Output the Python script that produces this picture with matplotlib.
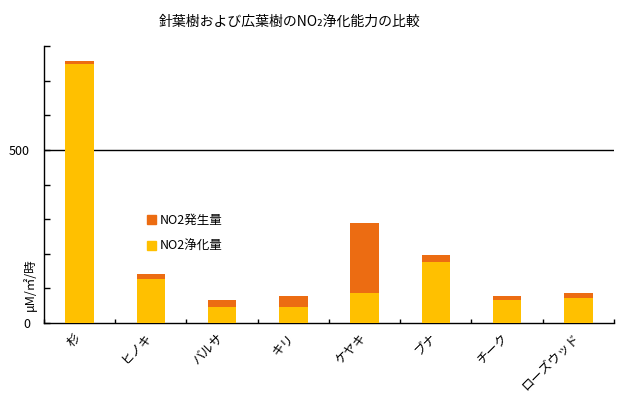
import matplotlib
matplotlib.use("Agg")
import matplotlib.pyplot as plt
from matplotlib.patches import Patch
import numpy as np

plt.rcParams['font.family'] = ['Noto Sans CJK JP', 'DejaVu Sans']

categories = ["杉", "ヒノキ", "バルサ", "キリ", "ケヤキ", "ブナ", "チーク", "ローズウッド"]
purification = [747, 127, 46, 46, 87, 177, 66, 72]   # NO2浄化量
generation = [9, 14, 20, 32, 202, 20, 12, 15]        # NO2発生量
yticks_major = [0, 500]
title = "針葉樹および広葉樹のNO₂浄化能力の比較"
ylabel = "μM/㎡/時"
legend_labels = ["NO2発生量", "NO2浄化量"]

c_yellow = "#FFC000"
c_orange = "#EC6C12"

fig = plt.figure(figsize=(6.22, 3.95), dpi=100)
ax = fig.add_axes([44/622, 1-323/395, (614-44)/622, (323-46)/395])

x = np.arange(len(categories))
ax.bar(x, purification, width=0.4, color=c_yellow, zorder=3)
ax.bar(x, generation, width=0.4, bottom=purification, color=c_orange, zorder=3)

ax.set_xlim(-0.5, len(categories) - 0.5)
ax.set_ylim(0, 800)
ax.set_yticks(yticks_major)
ax.set_yticks(np.arange(0, 801, 100), minor=True)
ax.tick_params(axis='y', which='both', direction='in', length=4, width=1, labelsize=9, pad=10)
ax.axhline(500, color='black', lw=1, zorder=2)

ax.set_xticks(np.arange(len(categories) + 1) - 0.5, minor=True)
ax.set_xticks(x + 0.05)
ax.set_xticklabels(categories, rotation=45, ha='right', va='top', fontsize=9,
                   rotation_mode='default')
ax.tick_params(axis='x', which='major', length=0, pad=6)
ax.tick_params(axis='x', which='minor', direction='in', length=3, width=1)

for s in ['top', 'right']:
    ax.spines[s].set_visible(False)
ax.spines['left'].set_linewidth(1)
ax.spines['bottom'].set_linewidth(1)

fig.text(30/622, 1-285/395, ylabel, rotation=90, ha='center', va='center', fontsize=9)
fig.text(290/622, 1-22/395, title, ha='center', va='center', fontsize=10)

handles = [Patch(color=c_orange), Patch(color=c_yellow)]
fig.legend(handles, legend_labels, loc='upper left', bbox_to_anchor=(136/622, 1-203/395),
           frameon=False, handlelength=0.7, handleheight=0.7, handletextpad=0.3,
           labelspacing=1.0, fontsize=9)

fig.savefig("out.png", dpi=100)
